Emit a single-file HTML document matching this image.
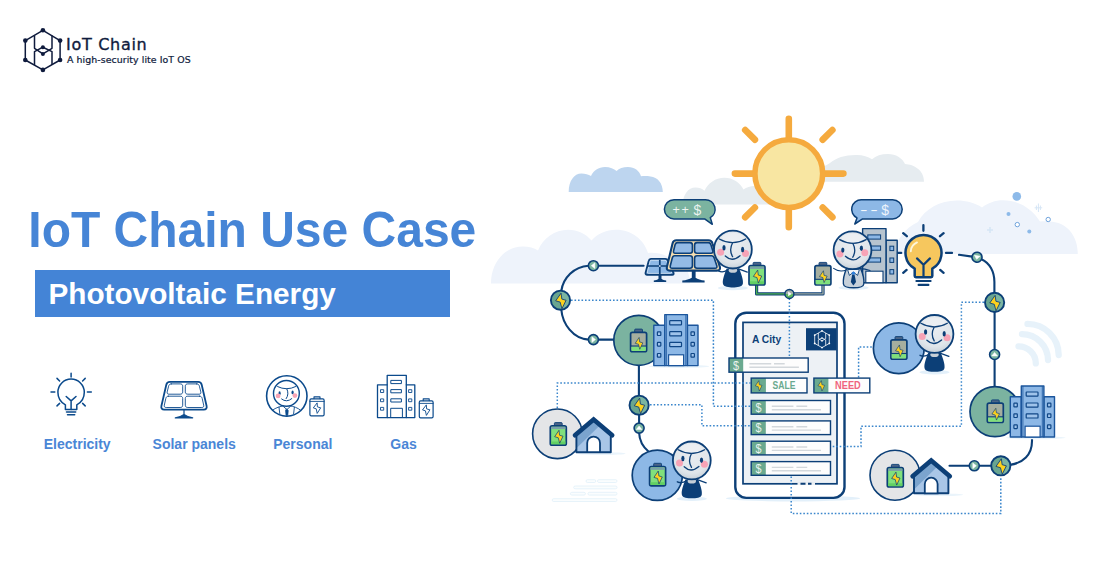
<!DOCTYPE html>
<html lang="en">
<head>
<meta charset="utf-8">
<title>IoT Chain Use Case - Photovoltaic Energy</title>
<style>
html,body{margin:0;padding:0;background:#fff;}
body{width:1119px;height:563px;overflow:hidden;position:relative;font-family:"Liberation Sans",sans-serif;}
svg{position:absolute;left:0;top:0;display:block;}
text{font-family:"Liberation Sans",sans-serif;}
.logo1{font-family:"DejaVu Sans","Liberation Sans",sans-serif;font-size:16px;fill:#0f1b3d;letter-spacing:0.7px;stroke:#0f1b3d;stroke-width:0.35px;}
.logo2{font-family:"DejaVu Sans","Liberation Sans",sans-serif;font-size:9.4px;fill:#0f1b3d;letter-spacing:0.07px;stroke:#0f1b3d;stroke-width:0.22px;}
.title{font-weight:bold;font-size:49.5px;fill:#4685d6;}
.sub{font-weight:bold;font-size:29.5px;fill:#fff;}
.lab{font-weight:bold;font-size:14px;fill:#4a86d6;text-anchor:middle;}
</style>
</head>
<body>
<svg width="1119" height="563" viewBox="0 0 1119 563">
<defs>
<radialGradient id="gHead" cx="0.5" cy="0.36" r="0.66">
  <stop offset="0" stop-color="#e9edf1"/><stop offset="0.72" stop-color="#dfe5ea"/><stop offset="0.86" stop-color="#d3dbe2"/><stop offset="1" stop-color="#bfc9d2"/>
</radialGradient>
<!-- lightning bolt, centred -->
<path id="bolt" d="M0.4,-7 L-4.4,0.1 L-0.4,1.3 L1.2,7.4 L4.9,-0.4 L1.1,-1.5 Z" fill="#fcd11e" stroke="#0c3f77" stroke-width="0.8" stroke-linejoin="round"/>
<!-- lightning node -->
<g id="lnode">
  <circle r="9.6" fill="#7bb5a1"/>
  <path d="M0,-9.6 A9.6,9.6 0 0 0 0,9.6 Z" fill="#69a590"/>
  <circle r="9.6" fill="none" stroke="#0c3f77" stroke-width="1.9"/>
  <use href="#bolt" transform="translate(0.1,0.5) scale(1.12,1.08)"/>
</g>
<!-- small node (triangle points right) -->
<g id="snode">
  <circle r="5" fill="#7bb5a1" stroke="#0c3f77" stroke-width="1.6"/>
  <path d="M2.1,0 L-1.5,-2.9 L-1.5,2.9 Z" fill="#fff" stroke="#fff" stroke-width="0.5" stroke-linejoin="round"/>
</g>
<!-- green battery -->
<g id="batG">
  <rect x="-3.9" y="-12.9" width="7.8" height="4" rx="0.8" fill="#4b6486" stroke="#0c3f77" stroke-width="0.9"/>
  <rect x="-8" y="-9.7" width="16" height="19.4" rx="1.8" fill="#80e07c" stroke="#0c3f77" stroke-width="1.7"/>
  <rect x="-7.1" y="-8.8" width="14.2" height="2.4" fill="#7a9fa8"/>
  <rect x="-7.1" y="6" width="14.2" height="2.8" fill="#62cf63"/>
  <use href="#bolt" transform="translate(0.3,1.1) scale(0.9)"/>
</g>
<!-- grey (mostly empty) battery -->
<g id="batM">
  <rect x="-3.9" y="-12.9" width="7.8" height="4" rx="0.8" fill="#4b6486" stroke="#0c3f77" stroke-width="0.9"/>
  <rect x="-8" y="-9.7" width="16" height="19.4" rx="1.8" fill="#a5ae9f" stroke="#0c3f77" stroke-width="1.7"/>
  <path d="M-7.2,4.4 H7.2 V7.9 Q7.2,8.9 6.2,8.9 H-6.2 Q-7.2,8.9 -7.2,7.9 Z" fill="#80e07c"/>
  <path d="M-8,4 H8" stroke="#0c3f77" stroke-width="1.1"/>
  <use href="#bolt" transform="translate(0.2,1.2) scale(0.82)"/>
</g>
<!-- character head, centred -->
<g id="head">
  <circle r="18.9" fill="url(#gHead)" stroke="#0c3f77" stroke-width="1.8"/>
  <ellipse cx="0" cy="-12" rx="11" ry="4.5" fill="#f1f3f5" opacity="0.55"/>
  <circle cx="-12.3" cy="2.6" r="3.5" fill="#f7a3b6"/>
  <circle cx="12.6" cy="3.8" r="3.5" fill="#f7a3b6"/>
  <ellipse cx="-8.9" cy="-1.9" rx="1.6" ry="2.7" fill="#0c3f77"/>
  <ellipse cx="9.7" cy="-0.1" rx="1.6" ry="2.7" fill="#0c3f77"/>
  <path d="M-13.6,-10.6 Q-0.3,-3.2 12.8,-10.6 M-0.3,-6.9 Q-4.2,0.5 -0.3,7 M-7.6,6.4 Q-0.9,13 7.1,6.1" fill="none" stroke="#0c3f77" stroke-width="1.3" stroke-linecap="round"/>
</g>
<!-- navy body (relative to head centre) -->
<g id="bodyN">
  <ellipse cx="0" cy="38.4" rx="15" ry="2.2" fill="#e3f0fa"/>
  <path d="M-5.5,20.5 Q-10,23.4 -14.5,21.4 M5.5,19.3 L14.4,22.5" stroke="#0c3f77" stroke-width="1.3" fill="none" stroke-linecap="round"/>
  <path d="M-6.3,19.2 C-8.2,24 -10.6,30 -10,34 C-9.4,37.6 -4,37.9 0,37.9 C4,37.9 9.4,37.6 10,34 C10.6,30 8.2,24 6.3,19.2 Z" fill="#0c3f77"/>
  <ellipse cx="0" cy="20.6" rx="4.2" ry="2.6" fill="#c6cfd7"/>
</g>
<!-- blue building: origin bottom-centre of tower -->
<g id="bldg">
  <ellipse cx="3" cy="0.8" rx="30" ry="1.5" fill="#eaf4fb"/>
  <g fill="#8db8e6" stroke="#1b559c" stroke-width="1.4" stroke-linejoin="round">
    <rect x="-22.3" y="-40.3" width="11" height="40.3"/>
    <rect x="11.3" y="-40.3" width="10.6" height="40.3"/>
    <rect x="-11.3" y="-51" width="22.6" height="51"/>
  </g>
  <path d="M-9.7,-51 V0 M9.7,-51 V0" stroke="#1b559c" stroke-width="0.8" fill="none"/>
  <g fill="#9fc3ea" stroke="#0f4686" stroke-width="1.2">
    <rect x="-6.4" y="-45" width="11.8" height="4.2" rx="0.6"/>
    <rect x="-6.4" y="-34" width="11.8" height="4.2" rx="0.6"/>
    <rect x="-6.4" y="-23.2" width="11.8" height="4.2" rx="0.6"/>
    <rect x="-18.7" y="-33.8" width="3.4" height="3.7" rx="0.5"/>
    <rect x="-18.7" y="-23.2" width="3.4" height="3.7" rx="0.5"/>
    <rect x="-18.7" y="-12.1" width="3.4" height="3.7" rx="0.5"/>
    <rect x="14.9" y="-33.8" width="3.4" height="3.7" rx="0.5"/>
    <rect x="14.9" y="-23.2" width="3.4" height="3.7" rx="0.5"/>
    <rect x="14.9" y="-12.1" width="3.4" height="3.7" rx="0.5"/>
  </g>
  <rect x="-7.5" y="-10.8" width="15" height="10.8" fill="#fff" stroke="#1b559c" stroke-width="1.2"/>
</g>
<!-- house: origin bottom-centre -->
<g id="house">
  <ellipse cx="8" cy="0.8" rx="24" ry="1.4" fill="#eaf4fb"/>
  <path d="M-17.2,-0.6 V-19 L0,-33 L17.2,-19 V-0.6 Z" fill="#a9c6e7"/>
  <path d="M-17.2,-4.5 V-19 L0,-33 L6.5,-27.6 Z" fill="#7ba4ce"/>
  <path d="M-17.2,-18 V-0.6 H17.2 V-18" fill="none" stroke="#0c3f77" stroke-width="1.9" stroke-linejoin="round"/>
  <path d="M-6.4,-0.6 V-9.8 A6.4,6.4 0 0 1 6.4,-9.8 V-0.6 Z" fill="#fff" stroke="#0c3f77" stroke-width="1.8"/>
  <path d="M-18.6,-17.6 L0,-33.3 L18.6,-17.6" fill="none" stroke="#0c3f77" stroke-width="4.6" stroke-linejoin="miter" stroke-linecap="round"/>
</g>
<!-- listing row (phone): origin top-left -->
<g id="row">
  <rect x="0" y="0" width="79.3" height="13.7" fill="#fdfdfd"/>
  <rect x="0" y="0" width="14.6" height="13.7" fill="#6aa98f"/>
  <path d="M20.6,5.8 H42.2 M45.2,5.8 H56 M20.6,9.2 H69.8" stroke="#d3d8dc" stroke-width="1.4"/>
  <rect x="0" y="0" width="79.3" height="13.7" fill="none" stroke="#0c3f77" stroke-width="1.4"/>
</g>

</defs>

<!-- ===== LOGO ===== -->
<g id="logo" stroke="#0f1b3d" stroke-width="1.5" fill="none" stroke-linejoin="round">
  <polygon points="42.9,30.3 60.1,40.6 60.1,60 42.9,69.9 25.3,60 25.3,40.6"/>
  <path d="M34.5,35.5 V48.3 L42.9,53.9 L52,48.3 V35.5"/>
  <path d="M34.5,65 V51.6 L42.9,47.2 L52,51.6 V65"/>
  <g fill="#0f1b3d" stroke="none">
    <circle cx="42.9" cy="30.3" r="2.3"/><circle cx="60.1" cy="40.6" r="2.3"/><circle cx="60.1" cy="60" r="2.3"/>
    <circle cx="42.9" cy="69.9" r="2.3"/><circle cx="25.3" cy="60" r="2.3"/><circle cx="25.3" cy="40.6" r="2.3"/>
    <circle cx="42.9" cy="47.2" r="2"/><circle cx="42.9" cy="53.9" r="2"/>
  </g>
</g>
<text class="logo1" x="66" y="50">IoT Chain</text>
<text class="logo2" x="67" y="63.4">A high-security lite IoT OS</text>

<!-- ===== TITLE ===== -->
<text class="title" x="28.3" y="247" textLength="448" lengthAdjust="spacingAndGlyphs">IoT Chain Use Case</text>
<rect x="35" y="270" width="415" height="47" fill="#4484d6"/>
<text class="sub" x="48.4" y="304.3" textLength="287.5" lengthAdjust="spacingAndGlyphs">Photovoltaic Energy</text>

<!-- ===== ICON ROW ===== -->

<g id="icons" fill="none" stroke="#0b4a8c" stroke-width="1.5" stroke-linecap="round" stroke-linejoin="round">
  <!-- bulb -->
  <g transform="translate(0.2,0.5)">
    <path d="M65.2,409 V404.3 C60.5,401.8 57.7,397.2 57.7,391.7 C57.7,384.4 63.6,378.6 70.9,378.6 C78.2,378.6 84.1,384.4 84.1,391.7 C84.1,397.2 81.3,401.8 76.6,404.3 V409 Z"/>
    <path d="M66,396 L70.9,400.4 L75.8,396 M70.9,400.4 V409"/>
    <path d="M66.3,411.6 H75.5 M67.3,414.2 H74.5"/>
    <path d="M70.9,372.8 V376.5 M50.8,391.6 H54.6 M87.2,391.6 H91.1 M56.8,377.9 L59.4,380.5 M85,377.9 L82.4,380.5 M56.8,405.4 L59.4,402.9 M85,405.4 L82.4,402.9"/>
  </g>
  <!-- solar panel icon -->
  <g transform="translate(0,0.6)">
    <path d="M169.8,381.3 H198.2 C200.2,381.3 201.3,382.3 201.7,384.2 L206.6,405.4 C207.1,407.6 206,409 203.8,409 H164.2 C162,409 160.9,407.6 161.4,405.4 L166.3,384.2 C166.7,382.3 167.8,381.3 169.8,381.3 Z" stroke-width="1.8"/>
    <g stroke-width="0.9">
    <path d="M171.2,383.3 H180.2 C181.8,383.3 182.7,384.1 182.7,385.6 V391.3 C182.7,392.8 181.8,393.6 180.2,393.6 H169 C167.5,393.6 166.9,392.8 167.2,391.3 L168.6,385.6 C169,384.1 169.8,383.3 171.2,383.3 Z"/>
    <path d="M196.8,383.3 H187.8 C186.2,383.3 185.3,384.1 185.3,385.6 V391.3 C185.3,392.8 186.2,393.6 187.8,393.6 H199 C200.5,393.6 201.1,392.8 200.8,391.3 L199.4,385.6 C199,384.1 198.2,383.3 196.8,383.3 Z"/>
    <path d="M168.3,395.6 H180.2 C181.8,395.6 182.7,396.4 182.7,397.9 V404.6 C182.7,406.1 181.8,406.9 180.2,406.9 H166.2 C164.6,406.9 164,406.1 164.3,404.6 L165.8,397.9 C166.2,396.4 166.9,395.6 168.3,395.6 Z"/>
    <path d="M199.7,395.6 H187.8 C186.2,395.6 185.3,396.4 185.3,397.9 V404.6 C185.3,406.1 186.2,406.9 187.8,406.9 H201.8 C203.4,406.9 204,406.1 203.7,404.6 L202.2,397.9 C201.8,396.4 201.1,395.6 199.7,395.6 Z"/>
    </g>
    <path d="M184,409 V414 M175.3,417.3 C179,416.6 181.5,415.8 184,414 C186.5,415.8 189,416.6 192.7,417.3 Z" fill="#0b4a8c" stroke-width="1.2"/>
  </g>
  <!-- personal icon -->
  <g stroke-width="1.4">
    <circle cx="286.8" cy="396" r="20.2" stroke-width="1.6"/>
    <circle cx="286.4" cy="393.4" r="12.9"/>
    <path d="M277.6,386.6 Q286.6,391 295.6,386.6 M286.8,388.8 Q289.4,394 286.2,398.6 M281.6,399 Q286.6,403 291.8,398.6" stroke-width="1"/>
    <ellipse cx="279.6" cy="393.2" rx="1.1" ry="1.9" fill="#0b4a8c" stroke="none"/>
    <ellipse cx="292.6" cy="392.4" rx="1.1" ry="1.9" fill="#0b4a8c" stroke="none"/>
    <circle cx="278.1" cy="395.9" r="2.4" fill="#f7a3b5" stroke="none"/>
    <circle cx="294.9" cy="395.6" r="2.4" fill="#f7a3b5" stroke="none"/>
    <path d="M272.5,410.2 C276,407.6 280,406.4 283.5,405.9 M300.8,410.4 C297.5,407.6 293.5,406.4 290,405.9 M279,407.2 L279.8,413.8 M294.4,407.2 L293.6,413.8 M283.5,406.6 L286.9,409.6 L290.2,406.6" stroke-width="0.9"/>
    <path d="M286.9,409 L288.3,410.4 L287.8,415.6 L286,415.6 L285.5,410.4 Z" fill="#0b4a8c" stroke-width="0.6"/>
    <!-- small battery -->
    <rect x="309.9" y="398.9" width="14.2" height="16.9" rx="1.3" stroke-width="1.2"/>
    <path d="M309.9,401.4 H324.1" stroke-width="0.9"/>
    <path d="M314,398.6 V396.9 H320 V398.6" stroke-width="1.1"/>
    <path d="M316.9,403.2 L313.3,407.9 L316.2,408.8 L317.2,413.4 L320.7,407.8 L317.8,407 Z" stroke-width="0.9"/>
  </g>
  <!-- gas / building icon -->
  <g stroke-width="1.3">
    <path d="M387.2,417.6 V375.3 H406.3 V417.6"/>
    <path d="M387.2,384.8 H377.5 V417.6 H414.8 V384.8 H406.3"/>
    <rect x="391.2" y="380.4" width="10.2" height="3.2" stroke-width="1"/>
    <rect x="391.2" y="389.6" width="10.2" height="3.2" stroke-width="1"/>
    <rect x="391.2" y="398.8" width="10.2" height="3.2" stroke-width="1"/>
    <path d="M390.7,417.6 V408.3 H402.4 V417.6" stroke-width="1"/>
    <g stroke-width="0.9">
    <rect x="380.9" y="389.7" width="2.8" height="2.8"/><rect x="380.9" y="398.9" width="2.8" height="2.8"/><rect x="380.9" y="407.4" width="2.8" height="2.8"/>
    <rect x="409" y="389.7" width="2.8" height="2.8"/><rect x="409" y="398.9" width="2.8" height="2.8"/><rect x="409" y="407.4" width="2.8" height="2.8"/>
    </g>
    <rect x="419.3" y="400.9" width="13.8" height="16.9" rx="1.3" stroke-width="1.2"/>
    <path d="M419.3,403.4 H433.1" stroke-width="0.9"/>
    <path d="M423.2,400.6 V398.9 H429.2 V400.6" stroke-width="1.1"/>
    <path d="M426.1,405.2 L422.5,409.9 L425.4,410.8 L426.4,415.4 L429.9,409.8 L427,409 Z" stroke-width="0.9"/>
  </g>
</g>

<text class="lab" x="77.2" y="448.8">Electricity</text>
<text class="lab" x="194.2" y="448.8">Solar panels</text>
<text class="lab" x="302.8" y="448.8">Personal</text>
<text class="lab" x="403.6" y="448.8">Gas</text>

<!-- ===== ILLUSTRATION ===== -->
<!-- clouds -->
<g id="clouds">
  <path d="M491,283.6 C491,262 505,246.5 523,246.5 C529,246.5 534,248 538,250.5 C543,238 555,229.8 568,229.8 C578,229.8 586,234 591.5,240.5 C597,234 606,229.8 616,229.8 C632,229.8 644,240 648,253 C655,252 664,254 670,258 C680,258 690,268 690,283.6 Z" fill="#eef3fb"/>
  <path d="M568.7,192 C568.7,181 574,173.5 581.5,173.5 C585,173.5 588.5,174.5 591,176 C593.5,170.5 598.5,167 605,167 C610,167 614,168.7 616.6,171 C619,168.5 623,167 628,167 C634.5,167 639.5,170.8 641,176.3 C643.5,176 647,176 650.5,176.4 C657.5,177 662.8,183 662.8,192 Z" fill="#bdd5ef"/>
  <path d="M682.8,204.5 C682.8,195 688,187.6 695.5,187.6 C699,187.6 702,188.8 704.5,190.8 C708,183 715.5,177.7 724.3,177.7 C733,177.7 740,182.5 743.5,189.5 C748,186 755,185 760,187 L790,187 V204.5 Z" fill="#e6ecf0"/>
  <path d="M810,181.7 V170 C820,168 826,166 830,163 C836,157.5 846,154.6 857,154.9 C863,155 868,156.6 872,159.3 C876,156 881,154.1 888,154.1 C896,154.1 902,158 905,164 C914,164.5 924,170 924,181.7 Z" fill="#e6ecf0"/>
  <path d="M894,253.9 C896,240 905,228 918,222 C925,209 940,200.6 957,200.6 C966,200.6 975,203 982,207.5 C988,203 995,200.3 1003,200.3 C1019,200.3 1032,209 1040,221.5 C1044,221 1050,221 1055,222.3 C1068,224.5 1077.8,237 1077.8,253.9 Z" fill="#eef3fb"/>
  <circle cx="1016.8" cy="196.4" r="4.3" fill="#8dbae9"/>
  <circle cx="1008.5" cy="213.9" r="2" fill="#8dbae9"/>
  <circle cx="1029.3" cy="231.5" r="2" fill="#8dbae9"/>
  <circle cx="1017.3" cy="224.6" r="2.2" fill="#fff" stroke="#6fa3dc" stroke-width="1"/>
  <circle cx="1048.2" cy="219.5" r="2.2" fill="#fff" stroke="#6fa3dc" stroke-width="1"/>
  <path d="M1038.4,203.5 V212 M1036.4,205.5 V210 M1040.4,205.5 V210 M1034.6,207.8 H1042.2" stroke="#d6e6f6" stroke-width="1" fill="none"/>
  <path d="M990,227 V233 M987,230 H993" stroke="#d6e6f6" stroke-width="1.6" fill="none"/>
</g>

<!-- sun -->
<g id="sun" stroke="#f5aa3e" stroke-width="6.6" stroke-linecap="round" fill="none">
  <path d="M788.8,118.7 V138 M788.8,209 V227.2 M734.9,173.6 H753 M825,173.6 H843.4 M754.9,139.7 L745.2,130 M822.7,139.7 L832.4,130 M754.9,207.5 L745.2,217.2 M822.7,207.5 L832.4,217.2"/>
  <circle cx="788.8" cy="173.6" r="33.9" fill="#f8e6a2" stroke-width="5.6"/>
</g>

<!-- wifi arcs + faint lines -->
<g fill="none" stroke="#e7f2fa" stroke-width="6.3" stroke-linecap="round">
  <path d="M1027.5,323.9 A31.2,31.2 0 0 1 1058.7,355"/>
  <path d="M1022,334.1 A26,26 0 0 1 1048,360"/>
  <path d="M1018.5,346.3 A17.3,17.3 0 0 1 1035.8,363.4"/>
</g>
<g fill="#fafdfe" stroke="#e1f0f9" stroke-width="0.8">
  <rect x="586" y="479.7" width="9.8" height="2.8" rx="1.4"/><rect x="597.5" y="479.7" width="19.5" height="2.8" rx="1.4"/>
  <rect x="573.7" y="486" width="43.3" height="2.8" rx="1.4"/>
  <rect x="570.4" y="492.3" width="15" height="2.8" rx="1.4"/><rect x="588" y="492.3" width="29" height="2.8" rx="1.4"/>
  <rect x="552.2" y="498.7" width="64.8" height="2.8" rx="1.4"/>
</g>


<!-- navy wires -->
<g id="wires" fill="none" stroke="#0c3f77" stroke-width="2.1" stroke-linecap="round">
  <path d="M643.6,265.7 H598"/>
  <path d="M588.6,265.7 C574,266.5 563,278 561.3,291"/>
  <path d="M561.3,309.5 C562.5,324 573,338.6 588.6,339.6"/>
  <path d="M598,339.6 H614"/>
  <path d="M638.9,365 V396 M639.1,414 V423.5"/>
  <path d="M639.1,432.8 C639.5,442 643,447 648.5,451.5"/>
  <path d="M959,254.8 L972.3,256.6"/>
  <path d="M981.4,259.2 C990,263 994.4,272 994.4,282 V293"/>
  <path d="M994.6,312 V349.5 M994.6,359.5 V387"/>
  <path d="M1032,436 V441 C1032,455 1023,463 1010,464.9"/>
  <path d="M991,465.8 H979 M969.5,465.8 H949.5"/>
</g>

<!-- green tube wire between the two batteries -->
<g fill="none" stroke-linejoin="round">
  <path d="M756.6,285 V293.9 H789.4" stroke="#0c3f77" stroke-width="3.2"/>
  <path d="M823,285 V293.9 H789.4" stroke="#0c3f77" stroke-width="3.2"/>
  <path d="M756.6,285 V293.9 H789.4" stroke="#4caf50" stroke-width="1.4"/>
  <path d="M823,285 V293.9 H789.4" stroke="#9aa7a0" stroke-width="1.4"/>
</g>
<!-- phone -->
<g id="phone">
  <ellipse cx="793" cy="498.4" rx="67" ry="3" fill="#e3f0fa"/>
  <rect x="735.3" y="312.7" width="109.2" height="185.2" rx="11" fill="#fff" stroke="#0c3f77" stroke-width="2.4"/>
  <rect x="743" y="322.4" width="94" height="161.4" fill="#edf1f5" stroke="#0c3f77" stroke-width="1.7"/>
  <path d="M797.5,483.8 H815" stroke="#edf1f5" stroke-width="2.6"/>
  <path d="M800.5,483.8 H805.5 M808,483.8 H811.5" stroke="#0c3f77" stroke-width="2"/>
  <rect x="806" y="328.2" width="30.6" height="22.2" fill="#0c3f77"/>
  <g fill="none" stroke="#fff" stroke-width="0.8" stroke-linejoin="round">
    <polygon points="822,330.9 829.3,335.1 829.3,343.4 822,347.6 814.7,343.4 814.7,335.1"/>
    <path d="M818.3,333 V338.6 L822,340.9 L825.7,338.6 V333 M818.3,345.5 V339.9 L822,338 L825.7,339.9 V345.5"/>
    <g fill="#fff" stroke="none"><circle cx="822" cy="330.9" r="0.9"/><circle cx="829.3" cy="335.1" r="0.9"/><circle cx="829.3" cy="343.4" r="0.9"/><circle cx="822" cy="347.6" r="0.9"/><circle cx="814.7" cy="343.4" r="0.9"/><circle cx="814.7" cy="335.1" r="0.9"/><circle cx="822" cy="338" r="0.8"/><circle cx="822" cy="340.9" r="0.8"/></g>
  </g>
  <text x="752" y="342.8" font-size="11" font-weight="bold" fill="#0c3f77" textLength="29.2" lengthAdjust="spacingAndGlyphs">A City</text>
<!-- dotted connectors -->
<g id="dots" fill="none" stroke="#3a86cc" stroke-width="1.5" stroke-dasharray="1.6 1.9">
  <path d="M571,300.2 H713.4 V406.2 H750.5"/>
  <path d="M557.3,408 V383 H750.5"/>
  <path d="M650,404.8 H701.9 V425.7 H750.5"/>
  <path d="M789.4,298.5 V358"/>
  <path d="M858.6,377.4 V347 H873"/>
  <path d="M984,302.3 H961.4 V426.2 H861 V446.6 H832"/>
  <path d="M791.2,476.5 V513.4 H1000.8 V476.5"/>
</g>
  <!-- row 1 sticks out to the left -->
  <g transform="translate(729,358)">
    <rect width="79.2" height="14.2" fill="#fdfdfd"/>
    <rect width="14.2" height="14.2" fill="#6aa98f"/>
    <path d="M20.4,5.8 H42.2 M45,5.8 H55.7 M20.4,9.2 H69.9" stroke="#d3d8dc" stroke-width="1.4"/>
    <rect width="79.2" height="14.2" fill="none" stroke="#0c3f77" stroke-width="1.4"/>
  </g>
  <use href="#row" x="751.2" y="400.5"/>
  <use href="#row" x="751.2" y="420.9"/>
  <use href="#row" x="751.2" y="441.2"/>
  <use href="#row" x="751.2" y="461.6"/>
  <g font-size="12.6" fill="#fff" fill-opacity="0.88" text-anchor="middle">
    <text transform="translate(736.1,369.9) scale(0.86,1)">$</text>
    <text transform="translate(758.5,411.9) scale(0.86,1)">$</text>
    <text transform="translate(758.5,432.3) scale(0.86,1)">$</text>
    <text transform="translate(758.5,452.6) scale(0.86,1)">$</text>
    <text transform="translate(758.5,473) scale(0.86,1)">$</text>
  </g>
  <!-- SALE tag -->
  <g transform="translate(751.2,378.1)">
    <rect width="55.8" height="14.8" fill="#fdfdfd"/>
    <rect width="14.7" height="14.8" fill="#6aa98f"/>
    <rect width="55.8" height="14.8" fill="none" stroke="#0c3f77" stroke-width="1.4"/>
    <use href="#bolt" transform="translate(7.3,7.6) scale(0.72)"/>
  </g>
  <text x="772.6" y="389.3" font-size="10.8" font-weight="bold" fill="#6aa98f" textLength="22.8" lengthAdjust="spacingAndGlyphs">SALE</text>
  <!-- NEED tag -->
  <g transform="translate(813.9,378.1)">
    <rect width="55.9" height="14.8" fill="#fdfdfd"/>
    <rect width="14.5" height="14.8" fill="#6aa98f"/>
    <rect width="55.9" height="14.8" fill="none" stroke="#0c3f77" stroke-width="1.4"/>
    <use href="#bolt" transform="translate(7.2,7.6) scale(0.72)"/>
  </g>
  <text x="835.1" y="389.3" font-size="10.8" font-weight="bold" fill="#f0647e" textLength="25.6" lengthAdjust="spacingAndGlyphs">NEED</text>
</g>

<!-- left: green circle + building -->
<circle cx="638.8" cy="340.3" r="25" fill="#7bb3a0" stroke="#0c3f77" stroke-width="1.7"/>
<use href="#batM" x="638.6" y="342"/>
<use href="#bldg" x="676.1" y="365.6"/>

<!-- left: grey circle + house -->
<circle cx="557.4" cy="433.8" r="24.8" fill="#e4e5e7" stroke="#0c3f77" stroke-width="1.6"/>
<use href="#batG" x="558.3" y="435.5"/>
<use href="#house" x="593.6" y="452.8"/>

<!-- bottom-left: blue circle + character -->
<circle cx="657.3" cy="475.3" r="25.1" fill="#8db8e6" stroke="#0c3f77" stroke-width="1.7"/>
<use href="#batG" x="657.6" y="476.2"/>
<use href="#bodyN" x="691.8" y="460.4"/>
<use href="#head" x="691.8" y="460.4"/>

<!-- right: blue circle + character -->
<circle cx="898.8" cy="348.2" r="25.4" fill="#8db8e6" stroke="#0c3f77" stroke-width="1.7"/>
<use href="#batM" x="898.9" y="349.5"/>
<use href="#bodyN" x="934.5" y="333.9"/>
<use href="#head" x="934.5" y="333.9"/>

<!-- right: green circle + building -->
<circle cx="995" cy="411.6" r="25" fill="#7bb3a0" stroke="#0c3f77" stroke-width="1.7"/>
<use href="#batM" x="995.3" y="412.8"/>
<use href="#bldg" x="1032.6" y="437"/>

<!-- bottom-right: grey circle + house -->
<circle cx="895" cy="475.2" r="25" fill="#e4e5e7" stroke="#0c3f77" stroke-width="1.6"/>
<use href="#batG" x="895.3" y="477.3"/>
<use href="#house" x="931.2" y="493.9"/>

<!-- solar panels -->
<g id="panels">
  <!-- small -->
  <path d="M658.5,275 H661.5 V278.8 C662.6,279.8 664.5,280.3 666.2,280.5 V282 H653.8 V280.5 C655.5,280.3 657.4,279.8 658.5,278.8 Z" fill="#0c3f77"/>
  <path d="M650.9,258.9 H665.4 Q667.2,258.9 667.8,260.7 L673.4,272.7 Q674.2,274.8 672.2,274.8 H647.2 Q645.2,274.8 645.6,272.7 L648.8,260.7 Q649.2,258.9 650.9,258.9 Z" fill="#8db8e6" stroke="#0c3f77" stroke-width="1.9" stroke-linejoin="round"/>
  <path d="M651.4,260.3 H665 Q666.2,260.3 666.7,261.5 L671.4,271.8 Q672,273.4 670.6,273.4 H648.4 Q647,273.4 647.3,271.8 L650,261.5 Q650.3,260.3 651.4,260.3 Z" fill="none" stroke="#e3ecf7" stroke-width="0.7"/>
  <path d="M659.8,259.8 V274 M647.6,266 H670.4" stroke="#0c3f77" stroke-width="1.7" fill="none"/>
  <rect x="659" y="265.2" width="1.6" height="1.6" fill="#c9dcf2"/>
  <!-- large -->
  <path d="M691.8,271 H695.6 V277.8 C697.5,279.3 701,280.2 704.6,280.6 V282.4 H682.3 V280.6 C686,280.2 689.5,279.3 691.8,277.8 Z" fill="#0c3f77"/>
  <path d="M676.4,240.2 H708.4 Q711.6,240.2 712.4,243.2 L719.8,266.6 Q720.8,270.6 716.8,270.6 H670 Q666,270.6 667,266.6 L672.6,243.2 Q673.4,240.2 676.4,240.2 Z" fill="#f7dfb1" stroke="#0c3f77" stroke-width="2.1" stroke-linejoin="round"/>
  <g fill="#94bbe6" stroke="#0c3f77" stroke-width="1.6" stroke-linejoin="round">
    <path d="M677.4,242.6 H690 Q692.4,242.6 692.4,245 V250.8 Q692.4,253.2 690,253.2 H675.2 Q673,253.2 673.6,250.8 L675,245 Q675.6,242.6 677.4,242.6 Z"/>
    <path d="M697,242.6 H708.4 Q710.4,242.6 711,245 L712.8,250.8 Q713.4,253.2 711,253.2 H697 Q694.6,253.2 694.6,250.8 V245 Q694.6,242.6 697,242.6 Z"/>
    <path d="M674.6,255.8 H690 Q692.4,255.8 692.4,258.2 V265.8 Q692.4,268.2 690,268.2 H672 Q669.8,268.2 670.3,265.8 L672.2,258.2 Q672.8,255.8 674.6,255.8 Z"/>
    <path d="M697,255.8 H711.6 Q713.6,255.8 714.3,258.2 L716.8,265.8 Q717.5,268.2 715.1,268.2 H697 Q694.6,268.2 694.6,265.8 V258.2 Q694.6,255.8 697,255.8 Z"/>
  </g>
</g>

<!-- character 1 (solar seller) -->
<use href="#bodyN" x="732.9" y="249.6"/>
<use href="#head" x="732.9" y="249.6"/>
<use href="#batG" x="757" y="275.3"/>

<!-- grey office building behind character 2 -->
<g id="gbldg">
  <g fill="#b7c4cf" stroke="#0c3f77" stroke-width="1.4" stroke-linejoin="round">
    <rect x="886" y="240.2" width="11.2" height="42.5"/>
    <rect x="862.6" y="228.6" width="23.4" height="54.1"/>
  </g>
  <g fill="#8db8e6" stroke="#0c3f77" stroke-width="1">
    <rect x="867.8" y="234.9" width="12.8" height="4.2"/>
    <rect x="867.8" y="246" width="12.8" height="4.2"/>
    <rect x="867.8" y="257.9" width="12.8" height="4.2"/>
    <rect x="889.9" y="246.2" width="3.8" height="4.4"/>
    <rect x="889.9" y="258" width="3.8" height="4.4"/>
    <rect x="889.9" y="269.6" width="3.8" height="4.4"/>
  </g>
  <rect x="865.8" y="271.2" width="17.2" height="11.5" fill="#fff" stroke="#0c3f77" stroke-width="1.1"/>
</g>

<!-- character 2 (buyer in suit) -->
<g id="char2">
  <ellipse cx="853.6" cy="287.8" rx="15" ry="2.2" fill="#e3f0fa"/>
  <path d="M846.5,270 C842,271.6 837,271 833.6,268.4 M860,268.6 C863,268.6 867,269.4 870,270.6" stroke="#0c3f77" stroke-width="1.1" fill="none" stroke-linecap="round"/>
  <path d="M846.6,268.4 C844.6,273 843,280 843.4,284 C843.8,287.3 848.4,287.8 853.6,287.8 C858.8,287.8 863.4,287.3 863.8,284 C864.2,280 862.6,273 860.6,268.4 Z" fill="#c5d0da" stroke="#0c3f77" stroke-width="1.4"/>
  <path d="M847.6,269.6 L849.4,275.4 L853.4,272.2 L857.6,275.4 L859.4,269.4 Z" fill="#f4f6f8" stroke="#0c3f77" stroke-width="0.9" stroke-linejoin="round"/>
  <path d="M851.6,272.6 L853.4,271.4 L855.2,272.6 L854.6,274.8 L852.2,274.8 Z" fill="#2f80dc"/>
  <path d="M852.2,274.8 H854.6 L856,282 L853.4,285.6 L850.8,282 Z" fill="#0c3f77"/>
  <use href="#head" transform="translate(852.5,250.2) scale(-1,1)"/>
</g>
<use href="#batM" x="822.9" y="275.3"/>

<!-- big bulb -->
<g id="bigbulb" fill="none" stroke="#0c3f77" stroke-linecap="round" stroke-linejoin="round">
  <path d="M915.9,277.2 Q914.7,277.2 914.7,276 V268.6 A18,18 0 1 1 932.3,268.6 V276 Q932.3,277.2 931.1,277.2 Z" fill="#f6c75e" stroke-width="2.5"/>
  <path d="M917,258.4 L923.5,264.8 L930,258.4 M923.5,264.8 V276.6" stroke-width="2.2"/>
  <path d="M916.4,281 H930.6 M918.6,284.9 H928.4" stroke-width="2.1"/>
  <path d="M910.8,251.2 C911,247.5 913.5,244 917,242.4" stroke="#fdf6dc" stroke-width="1.9"/>
  <path d="M923.4,225.2 V230.8 M898.2,252.9 H901.2 M946,252.9 H952 M903.2,233.2 L906.8,236.2 M943.6,233.2 L940,236.2 M903.2,272.8 L906.6,269.9 M943.6,272.8 L940.2,269.9" stroke-width="2.3"/>
</g>

<!-- nodes -->
<use href="#snode" transform="translate(593.4,265.7) rotate(180)"/>
<use href="#snode" transform="translate(593.4,339.6)"/>
<use href="#snode" transform="translate(639.1,428.1) rotate(-90)"/>
<use href="#snode" transform="translate(977,257.2) rotate(100)"/>
<use href="#snode" transform="translate(994.6,354.5) rotate(-90)"/>
<use href="#snode" transform="translate(974.3,465.8)"/>
<g transform="translate(789.4,293.9)">
  <circle r="4.5" fill="#5fb85f"/>
  <path d="M-4.5,0 A4.5,4.5 0 0 1 4.5,0 Z" fill="#a3aea9"/>
  <circle r="4.5" fill="none" stroke="#0c3f77" stroke-width="1.5"/>
  <path d="M2.2,0 L-1.2,-2.3 L-1.2,2.3 Z" fill="#fff"/>
</g>
<use href="#lnode" x="560.5" y="300.2"/>
<use href="#lnode" x="639.1" y="405.2"/>
<use href="#lnode" x="994.6" y="302.4"/>
<use href="#lnode" x="1000.8" y="465.8"/>

<!-- speech bubbles -->
<g stroke="#0c3f77" stroke-width="1.5" stroke-linejoin="round" transform="translate(0,-0.3)">
  <path d="M674,200 H705.4 A9.6,9.6 0 0 1 710.3,217.9 L712.3,224.6 L704.6,219.2 H674 A9.6,9.6 0 0 1 674,200 Z" fill="#7bb3a0"/>
  <path d="M861.2,200 H892.6 A9.6,9.6 0 0 1 892.6,219.2 H862.6 L854.8,224.3 L857,218.2 A9.6,9.6 0 0 1 861.2,200 Z" fill="#8db8e6"/>
</g>
<text x="672.6" y="214" font-size="12.5" fill="#fff" fill-opacity="0.9" letter-spacing="1.7">++</text><text transform="translate(693.4,215) scale(0.92,1)" font-size="15.2" fill="#fff" fill-opacity="0.86">$</text>
<text transform="translate(860,214.4) scale(1.75,1)" font-size="13" fill="#fff" fill-opacity="0.92" letter-spacing="1.5">--</text><text transform="translate(881.2,215) scale(0.92,1)" font-size="15.2" fill="#fff" fill-opacity="0.86">$</text>


</svg>
</body>
</html>
